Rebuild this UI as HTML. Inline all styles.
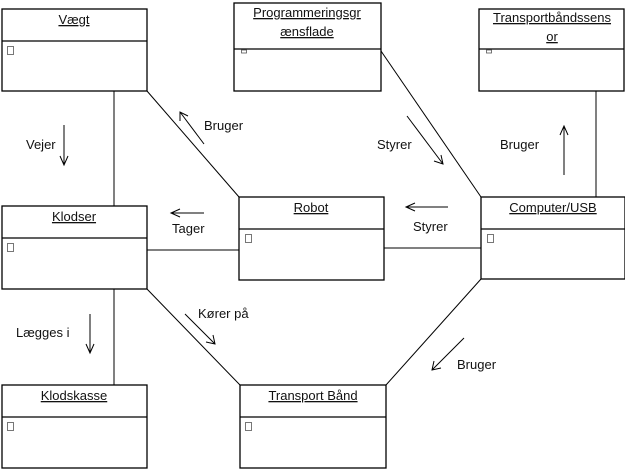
<!DOCTYPE html>
<html><head><meta charset="utf-8"><style>
html,body{margin:0;padding:0;background:#fff}
svg{display:block}
text{font-family:"Liberation Sans",sans-serif;font-size:13px;fill:#111}
.u{text-decoration:underline}
</style></head><body>
<svg width="625" height="469" viewBox="0 0 625 469" xmlns="http://www.w3.org/2000/svg">
<g fill="#fff" stroke="#000" stroke-width="1.3">
<rect x="2" y="9" width="145" height="82"/><line x1="2" y1="41" x2="147" y2="41"/>
<rect x="234" y="3" width="147" height="88"/><line x1="234" y1="49" x2="381" y2="49"/>
<rect x="479" y="9" width="145" height="82"/><line x1="479" y1="49" x2="624" y2="49"/>
<rect x="239" y="197" width="145" height="83"/><line x1="239" y1="229" x2="384" y2="229"/>
<rect x="481" y="197" width="144" height="82"/><line x1="481" y1="229" x2="625" y2="229"/>
<rect x="2" y="206" width="145" height="83"/><line x1="2" y1="238" x2="147" y2="238"/>
<rect x="2" y="385" width="145" height="83"/><line x1="2" y1="417" x2="147" y2="417"/>
<rect x="240" y="385" width="146" height="83"/><line x1="240" y1="417" x2="386" y2="417"/>
</g>
<g stroke="#000" stroke-width="1" fill="none">
<line x1="114" y1="91" x2="114" y2="206"/>
<line x1="147" y1="91" x2="239" y2="197"/>
<line x1="147" y1="250" x2="239" y2="250"/>
<line x1="384" y1="248" x2="481" y2="248"/>
<line x1="381" y1="51" x2="481" y2="197"/>
<line x1="596" y1="91" x2="596" y2="197"/>
<line x1="114" y1="289" x2="114" y2="385"/>
<line x1="147" y1="289" x2="240" y2="385"/>
<line x1="481" y1="279" x2="386" y2="385"/>
<!-- arrows -->
<line x1="64" y1="125" x2="64" y2="165"/><polyline points="60,156 64,165 68,156"/>
<line x1="204" y1="144" x2="180" y2="112"/><polyline points="180,121 180,112 188,116"/>
<line x1="204" y1="213" x2="171" y2="213"/><polyline points="180,209 171,213 180,217"/>
<line x1="407" y1="116" x2="443" y2="164"/><polyline points="434,161 443,164 441,155"/>
<line x1="448" y1="207" x2="406" y2="207"/><polyline points="415,203 406,207 415,211"/>
<line x1="564" y1="175" x2="564" y2="126"/><polyline points="560,135 564,126 568,135"/>
<line x1="90" y1="314" x2="90" y2="353"/><polyline points="86,344 90,353 94,344"/>
<line x1="185" y1="314" x2="215" y2="344"/><polyline points="206,342 215,344 213,335"/>
<line x1="464" y1="338" x2="432" y2="370"/><polyline points="434,361 432,370 441,368"/>
</g>
<g fill="#fff" stroke="#555" stroke-width="0.8">
<rect x="7.5" y="46.5" width="6" height="8"/>
<rect x="7.5" y="243.5" width="6" height="8"/>
<rect x="7.5" y="422.5" width="6" height="8"/>
<rect x="245.5" y="234.5" width="6" height="8"/>
<rect x="487.5" y="234.5" width="6" height="8"/>
<rect x="245.5" y="422.5" width="6" height="8"/>
<rect x="241.5" y="50" width="5" height="3"/>
<rect x="486.5" y="50" width="5" height="3"/>
</g>
<g text-anchor="middle">
<text x="74" y="24" class="u">Vægt</text>
<text x="307" y="17" class="u">Programmeringsgr</text>
<text x="307" y="36" class="u">ænsflade</text>
<text x="552" y="22" class="u">Transportbåndssens</text>
<text x="552" y="41" class="u">or</text>
<text x="311" y="212" class="u">Robot</text>
<text x="553" y="212" class="u">Computer/USB</text>
<text x="74" y="221" class="u">Klodser</text>
<text x="74" y="400" class="u">Klodskasse</text>
<text x="313" y="400" class="u">Transport Bånd</text>
</g>
<text x="26" y="149">Vejer</text>
<text x="204" y="130">Bruger</text>
<text x="172" y="233">Tager</text>
<text x="377" y="149">Styrer</text>
<text x="413" y="231">Styrer</text>
<text x="500" y="149">Bruger</text>
<text x="16" y="337">Lægges i</text>
<text x="198" y="318">Kører på</text>
<text x="457" y="369">Bruger</text>
</svg>
</body></html>
